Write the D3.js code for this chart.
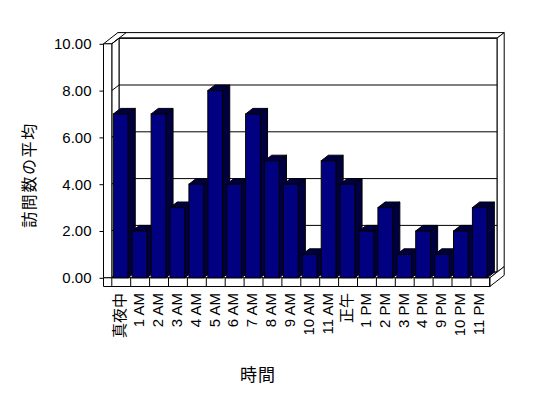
<!DOCTYPE html>
<meta charset="utf-8">
<head>
<style>
body { margin: 0; background: white; }
text { font-family: "Liberation Sans", "Noto Sans CJK JP", sans-serif; font-size: 15px; fill: black; }
.title { font-family: "Noto Sans CJK JP", sans-serif; }
.wall { fill: white; stroke: black; stroke-width: 1; }
.grid { stroke: black; stroke-width: 1; fill: none; }
.bar-front { fill: #000080; stroke: black; stroke-width: 1; }
.bar-shade { fill: url(#dither); stroke: black; stroke-width: 1; }
</style>
</head>
<body>
<script src="https://cdn.jsdelivr.net/npm/d3@7"></script>
<script>

// hours and average visit counts
var categories = ["真夜中", "1 AM", "2 AM", "3 AM", "4 AM", "5 AM", "6 AM", "7 AM", "8 AM", "9 AM",
                  "10 AM", "11 AM", "正午", "1 PM", "2 PM", "3 PM", "4 PM", "9 PM", "10 PM", "11 PM"];
var values = [7, 2, 7, 3, 4, 8, 4, 7, 5, 4, 1, 5, 4, 2, 3, 1, 2, 1, 2, 3];
var yTicks = [0, 2, 4, 6, 8, 10];

var width = 548, height = 398;

// front plane of the 3d box
var wallLeft = 103, plotLeft = 111.3, plotRight = 489.3,
    plotTop = 43.3, plotBottom = 277.3, floorBottom = 286;
// depth offset (one unit = depth of bars / wall thickness)
var dx = 7.2, dy = -5.6;

var x = d3.scaleBand()
    .domain(categories)
    .range([plotLeft, plotRight])
    .padding(0);

var y = d3.scaleLinear()
    .domain([0, 10])
    .range([plotBottom, plotTop]);

var svg = d3.select("body").append("svg")
    .attr("width", width)
    .attr("height", height);

// dithered pattern for the shaded faces
var pat = svg.append("defs").append("pattern")
    .attr("id", "dither")
    .attr("patternUnits", "userSpaceOnUse")
    .attr("width", 2)
    .attr("height", 2);
pat.append("rect").attr("width", 2).attr("height", 2).attr("fill", "#000080");
pat.append("rect").attr("width", 1).attr("height", 1).attr("fill", "#000000");
pat.append("rect").attr("x", 1).attr("y", 1).attr("width", 1).attr("height", 1).attr("fill", "#000000");

function poly(pts) {
  return "M" + pts.map(function(p) { return p[0] + "," + p[1]; }).join("L") + "Z";
}

var g = svg.append("g").attr("transform", "translate(0.5,0.5)");

var yT = y(10), yB = y(0);

// back wall: top face, right side, front face
g.append("path").attr("class", "wall")
    .attr("d", poly([[plotLeft + dx, yT + dy], [plotRight + dx, yT + dy],
                     [plotRight + 2 * dx, yT + 2 * dy], [wallLeft + 2 * dx, yT + 2 * dy]]));
g.append("path").attr("class", "wall")
    .attr("d", poly([[plotRight + dx, yT + dy], [plotRight + 2 * dx, yT + 2 * dy],
                     [plotRight + 2 * dx, yB + 2 * dy], [plotRight + dx, yB + dy]]));
g.append("path").attr("class", "wall")
    .attr("d", poly([[plotLeft + dx, yT + dy], [plotRight + dx, yT + dy],
                     [plotRight + dx, yB + dy], [plotLeft + dx, yB + dy]]));

// left wall: top face, inner face, front face
g.append("path").attr("class", "wall")
    .attr("d", poly([[wallLeft, yT], [plotLeft, yT],
                     [plotLeft + 2 * dx, yT + 2 * dy], [wallLeft + 2 * dx, yT + 2 * dy]]));
g.append("path").attr("class", "wall")
    .attr("d", poly([[plotLeft, yT], [plotLeft + dx, yT + dy],
                     [plotLeft + dx, yB + dy], [plotLeft, yB]]));
g.append("path").attr("class", "wall")
    .attr("d", poly([[wallLeft, yT], [plotLeft, yT], [plotLeft, yB], [wallLeft, yB]]));

// gridlines on back wall and left wall
yTicks.forEach(function(t) {
  g.append("path").attr("class", "grid")
      .attr("d", "M" + plotLeft + "," + y(t) + "L" + (plotLeft + dx) + "," + (y(t) + dy) +
                 "L" + (plotRight + dx) + "," + (y(t) + dy));
});

// floor: top strip, front face and right side
g.append("path").attr("class", "wall")
    .attr("d", poly([[plotLeft, yB], [plotLeft + dx, yB + dy], [plotRight + dx, yB + dy], [plotRight, yB]]));
g.append("path").attr("class", "wall")
    .attr("d", poly([[wallLeft, yB], [plotRight, yB], [plotRight, floorBottom], [wallLeft, floorBottom]]));
g.append("path").attr("class", "wall")
    .attr("d", poly([[plotRight, yB], [plotRight + 2 * dx, yB + 2 * dy],
                     [plotRight + 2 * dx, floorBottom + 2 * dy], [plotRight, floorBottom]]));

// category dividers on floor front
categories.concat([null]).forEach(function(c) {
  var xx = c === null ? plotRight : x(c);
  g.append("line").attr("class", "grid")
      .attr("x1", xx).attr("x2", xx)
      .attr("y1", yB).attr("y2", floorBottom);
});

// bars
var bw = x.bandwidth() * 0.78, boff = x.bandwidth() * 0.08;

values.forEach(function(v, i) {
  var bx = x(categories[i]) + boff, by = y(v);
  var bar = g.append("g").attr("class", "bar");
  bar.append("path").attr("class", "bar-shade")
      .attr("d", poly([[bx + bw, by], [bx + bw + dx, by + dy], [bx + bw + dx, yB + dy], [bx + bw, yB]]));
  bar.append("path").attr("class", "bar-shade")
      .attr("d", poly([[bx, by], [bx + bw, by], [bx + bw + dx, by + dy], [bx + dx, by + dy]]));
  bar.append("rect").attr("class", "bar-front")
      .attr("x", bx).attr("y", by)
      .attr("width", bw).attr("height", yB - by);
});

// y axis
var yAxis = d3.axisLeft(y)
    .tickValues(yTicks)
    .tickFormat(d3.format(".2f"))
    .tickSizeInner(4)
    .tickSizeOuter(0)
    .tickPadding(8);

var ya = svg.append("g")
    .attr("transform", "translate(" + (wallLeft + 0.5) + ",0.5)")
    .call(yAxis);
ya.select(".domain").remove();
ya.selectAll("line").attr("stroke", "black");
ya.selectAll("text").attr("font-size", null).attr("font-family", null);

// x axis with rotated labels
var xAxis = d3.axisBottom(x).tickSize(0);
var xa = svg.append("g")
    .attr("transform", "translate(0," + floorBottom + ")")
    .call(xAxis);
xa.select(".domain").remove();
xa.selectAll("text")
    .attr("font-size", null).attr("font-family", null)
    .attr("transform", "rotate(-90)")
    .attr("x", -7)
    .attr("y", -1)
    .attr("dy", "0.35em")
    .style("text-anchor", "end");

// axis titles
svg.append("text")
    .attr("class", "title")
    .attr("transform", "translate(29,175) rotate(-90)")
    .attr("dy", "0.38em")
    .attr("text-anchor", "middle")
    .style("font-size", "16px")
    .style("letter-spacing", "1.6px")
    .text("訪問数の平均");

svg.append("text")
    .attr("class", "title")
    .attr("x", 258)
    .attr("y", 375)
    .attr("dy", "0.38em")
    .attr("text-anchor", "middle")
    .style("font-size", "17px")
    .style("letter-spacing", "1px")
    .text("時間");

</script>
</body>
